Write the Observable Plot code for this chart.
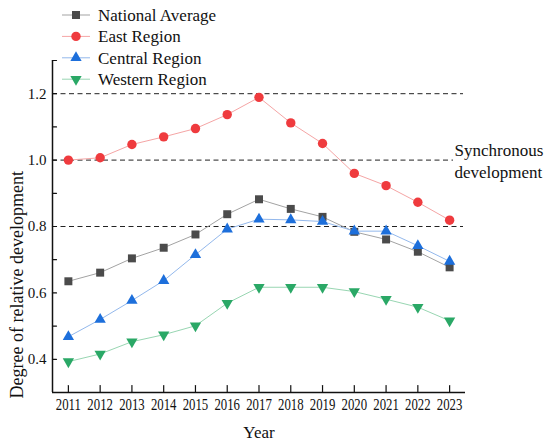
<!DOCTYPE html>
<html>
<head>
<meta charset="utf-8">
<script src="https://cdn.jsdelivr.net/npm/d3@7"></script>
<script src="https://cdn.jsdelivr.net/npm/@observablehq/plot@0.6"></script>
<style>
  html, body { margin: 0; padding: 0; background: #fff; }
  #wrap { position: relative; width: 550px; height: 447px; }
  #legend { position: absolute; left: 0; top: 0; }
</style>
</head>
<body>
<div id="wrap"></div>
<script>
// ---- data ----
const years = [2011, 2012, 2013, 2014, 2015, 2016, 2017, 2018, 2019, 2020, 2021, 2022, 2023];
const nationalAverage = [0.635, 0.661, 0.704, 0.736, 0.776, 0.837, 0.882, 0.853, 0.829, 0.784, 0.761, 0.724, 0.677];
const eastRegion      = [1.000, 1.007, 1.047, 1.070, 1.095, 1.137, 1.189, 1.112, 1.050, 0.960, 0.923, 0.873, 0.819];
const centralRegion   = [0.468, 0.520, 0.577, 0.637, 0.715, 0.792, 0.822, 0.820, 0.815, 0.786, 0.786, 0.742, 0.695];
const westernRegion   = [0.393, 0.416, 0.453, 0.474, 0.501, 0.569, 0.617, 0.617, 0.617, 0.604, 0.581, 0.557, 0.516];
const seriesNames = ["National Average", "East Region", "Central Region", "Western Region"];
const yTickLabels = [0.4, 0.6, 0.8, 1.0, 1.2];
const yTickMarks = [0.4, 0.5, 0.6, 0.7, 0.8, 0.9, 1.0, 1.1, 1.2, 1.3];
const dashedLevels = [0.8, 1.2];
const synchronousLevel = [1.0];
const xDomain = [2010.5, 2023.5];
const yDomain = [0.3, 1.3];

const series = [
  {name: seriesNames[0], values: nationalAverage, marker: "#4b4b4b", line: "#a3a3a3", symbol: "square", r: 4.5, rotate: 0},
  {name: seriesNames[1], values: eastRegion,      marker: "#ef3b3e", line: "#f5a5a5", symbol: "circle", r: 4.7, rotate: 0},
  {name: seriesNames[2], values: centralRegion,   marker: "#1d6fdb", line: "#93b8ec", symbol: "triangle", r: 4.2, rotate: 0},
  {name: seriesNames[3], values: westernRegion,   marker: "#2aa866", line: "#98d6b2", symbol: "triangle", r: 4.2, rotate: 180}
];

const FONT = "'Liberation Serif', 'Times New Roman', serif";
const tickShape = {draw(context, l) { context.moveTo(0, 0); context.lineTo(0, -l); }};

const seriesMarks = series.flatMap(s => {
  const rows = years.map((yr, i) => ({year: yr, value: s.values[i]}));
  return [
    Plot.line(rows, {x: "year", y: "value", stroke: s.line, strokeWidth: 1}),
    Plot.dot(rows, {x: "year", y: "value", symbol: s.symbol, r: s.r, fill: s.marker, stroke: "none", rotate: s.rotate})
  ];
});

const chart = Plot.plot({
  width: 550,
  height: 447,
  marginLeft: 52,
  marginRight: 85,
  marginTop: 60,
  marginBottom: 55,
  style: {fontFamily: FONT, background: "#fff", color: "#111"},
  x: {domain: xDomain, label: null},
  y: {domain: yDomain, label: null},
  marks: [
    Plot.ruleY(dashedLevels, {stroke: "#222", strokeWidth: 1, strokeDasharray: "5,3.5", insetRight: 2}),
    Plot.ruleY(synchronousLevel, {stroke: "#222", strokeWidth: 1, strokeDasharray: "5,3.5", insetRight: 12}),
    ...seriesMarks,
    Plot.ruleX([xDomain[0]], {stroke: "#111", strokeWidth: 1.5}),
    Plot.ruleY([yDomain[0]], {stroke: "#111", strokeWidth: 1.5}),
    Plot.vector(years, {x: d => d, y: yDomain[0], length: 7, rotate: 0, anchor: "start", shape: tickShape, stroke: "#111", strokeWidth: 1.2}),
    Plot.vector(yTickMarks, {x: xDomain[0], y: d => d, length: 4, rotate: 90, anchor: "start", shape: tickShape, stroke: "#111", strokeWidth: 1.2}),
    Plot.axisX({ticks: years, tickFormat: d => String(d), tickSize: 0, tickPadding: 6, fontSize: 16, fill: "#111", fontFamily: FONT}),
    Plot.axisY({ticks: yTickLabels, tickFormat: d3.format(".1f"), tickSize: 0, tickPadding: 6, fontSize: 15, fill: "#111", fontFamily: FONT}),
    Plot.text(synchronousLevel, {x: xDomain[1], y: d => d, text: () => "Synchronous\ndevelopment", textAnchor: "start", dx: -11, lineHeight: 1.3, fontSize: 17, fill: "#111", fontFamily: FONT}),
    Plot.text(["Year"], {frameAnchor: "bottom", text: d => d, dy: 40, lineAnchor: "middle", fontSize: 17, fill: "#111", fontFamily: FONT}),
    Plot.text(["Degree of relative development"], {frameAnchor: "bottom-left", text: d => d, rotate: -90, textAnchor: "start", dx: -35, dy: 6, lineAnchor: "middle", fontSize: 18, fill: "#111", fontFamily: FONT, ariaLabel: "ylabel"})
  ]
});

document.getElementById("wrap").appendChild(chart);

// condense x tick labels horizontally like the reference
d3.select(chart).selectAll('g[aria-label="x-axis tick label"] text').each(function() {
  const t = this.getAttribute("transform");
  if (t) this.setAttribute("transform", t + " scale(0.8,1)");
  else {
    const x = this.getAttribute("x") || 0, y = this.getAttribute("y") || 0;
    this.removeAttribute("x"); this.removeAttribute("y");
    this.setAttribute("transform", `translate(${x},${y}) scale(0.8,1)`);
  }
});
// stretch y label to reference length
d3.select(chart).selectAll('g[aria-label="ylabel"] text')
  .attr("textLength", 285).attr("lengthAdjust", "spacingAndGlyphs");

// ---- legend ----
const legend = d3.select("#wrap").append("svg")
  .attr("id", "legend").attr("width", 260).attr("height", 92)
  .style("font-family", FONT);
series.forEach((s, i) => {
  const g = legend.append("g").attr("transform", `translate(0,${15 + i * 21.4})`);
  g.append("line").attr("x1", 62).attr("x2", 90).attr("y1", 0).attr("y2", 0)
    .attr("stroke", s.line).attr("stroke-width", 1);
  const sym = {square: d3.symbolSquare, circle: d3.symbolCircle, triangle: d3.symbolTriangle}[s.symbol];
  g.append("path").attr("d", d3.symbol(sym, Math.PI * s.r * s.r)())
    .attr("transform", `translate(76,0) rotate(${s.rotate})`).attr("fill", s.marker);
  g.append("text").attr("x", 98).attr("y", 0).attr("dy", "0.35em")
    .attr("font-size", 17).attr("fill", "#111").text(s.name);
});
</script>
</body>
</html>
